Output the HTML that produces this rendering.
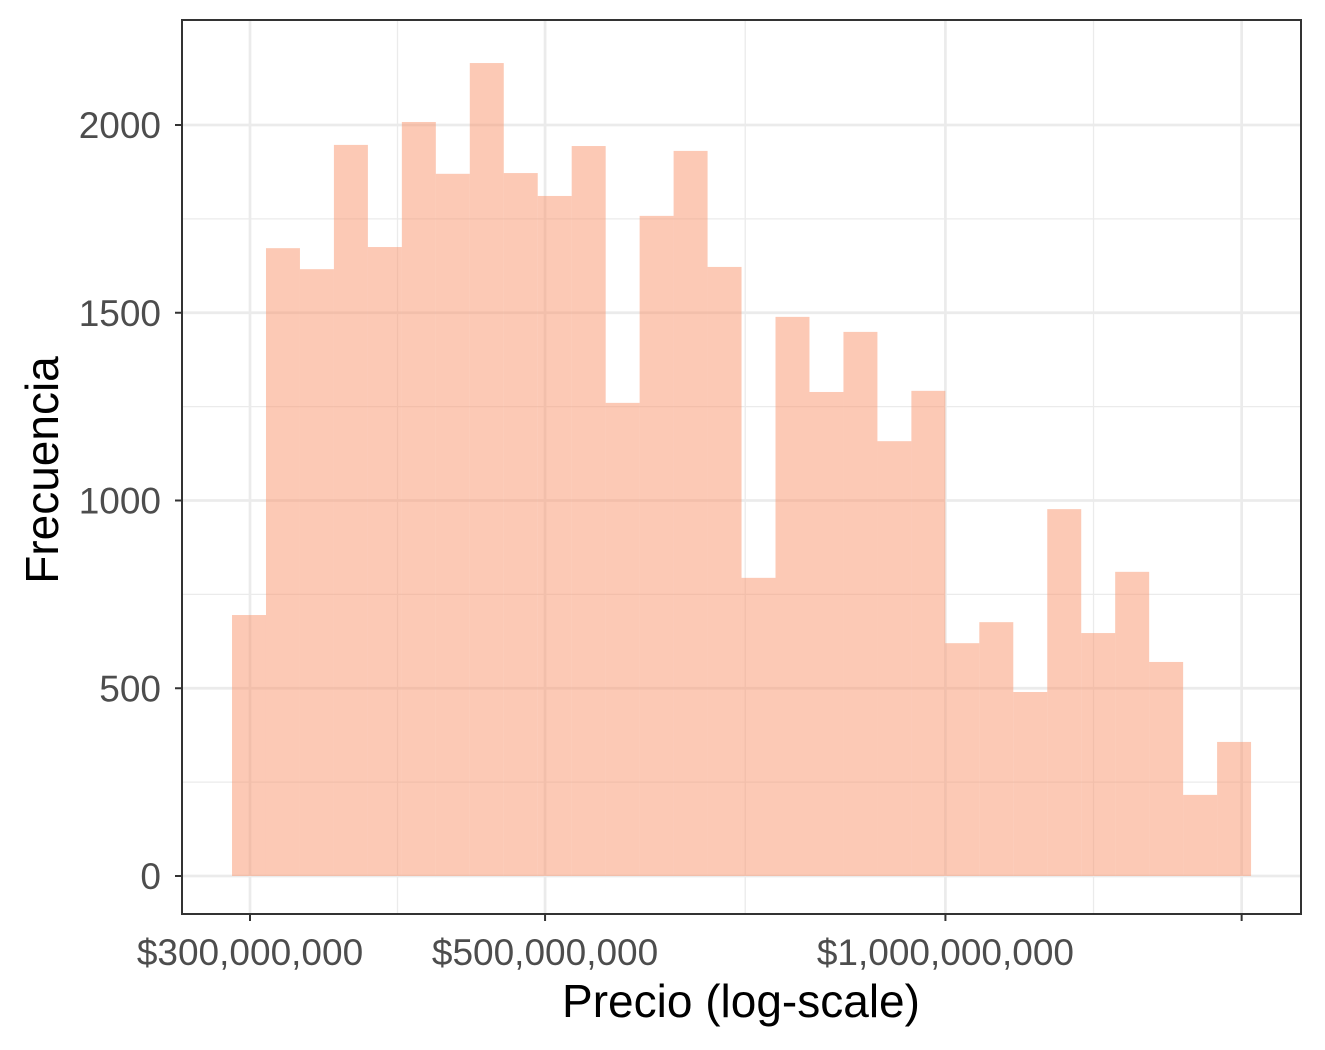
<!DOCTYPE html>
<html><head><meta charset="utf-8"><style>
body{margin:0;background:#fff}
svg{display:block;font-family:"Liberation Sans",Arial,sans-serif}
</style></head><body>
<svg id="chart" width="1325" height="1050">
<rect x="0" y="0" width="1325" height="1050" fill="#fff"/>
<g id="grid"></g><g id="bars"></g><g id="axes"></g>
</svg>
<script>
const counts=[695,1672,1616,1947,1675,2008,1870,2165,1872,1811,1944,1260,1758,1931,1622,794,1489,1289,1449,1158,1292,620,676,490,977,647,810,570,216,357];
const binStartLog=[8.4636];
const binWidthLog=[0.02554];
const xBreaks=[3e8,5e8,1e9,1.67e9];
const xLabels=["$300,000,000","$500,000,000","$1,000,000,000",""];
const yTicks=[0,500,1000,1500,2000];
const yMinor=[250,750,1250,1750];

const P={l:182,r:1301,t:20,b:914};
const xs=v=>250+(Math.log10(v)-Math.log10(3e8))*1330;
const xl=l=>250+(l-Math.log10(3e8))*1330;
const ys=v=>876-v*0.3755;
const NS="http://www.w3.org/2000/svg";
function mk(tag,attrs,parent){const e=document.createElementNS(NS,tag);for(const k in attrs)e.setAttribute(k,attrs[k]);parent.appendChild(e);return e;}
const grid=document.getElementById('grid'),bars=document.getElementById('bars'),axes=document.getElementById('axes');
const xb=xBreaks.map(xs);
for(let i=0;i<xb.length-1;i++){
  const l=mk('line',{x1:(xb[i]+xb[i+1])/2,x2:(xb[i]+xb[i+1])/2,y1:P.t,y2:P.b,stroke:'#ebebeb','stroke-width':1.3},grid);
  
  
}
yMinor.forEach(v=>{
  const l=mk('line',{x1:P.l,x2:P.r,y1:ys(v),y2:ys(v),stroke:'#ebebeb','stroke-width':1.3},grid);
  
  
});
xBreaks.forEach(v=>{
  const l=mk('line',{x1:xs(v),x2:xs(v),y1:P.t,y2:P.b,stroke:'#ebebeb','stroke-width':2.7},grid);
  
  
});
yTicks.forEach(v=>{
  const l=mk('line',{x1:P.l,x2:P.r,y1:ys(v),y2:ys(v),stroke:'#ebebeb','stroke-width':2.7},grid);
  
  
});
counts.forEach((c,i)=>{
  const a=xl(binStartLog[0]+i*binWidthLog[0]),b=xl(binStartLog[0]+(i+1)*binWidthLog[0]);
  const r=mk('rect',{x:a,y:ys(c),width:b-a,height:ys(0)-ys(c),fill:'rgb(250,148,108)','fill-opacity':0.5},bars);
  
  
});
const fr=mk('rect',{x:P.l,y:P.t,width:P.r-P.l,height:P.b-P.t,fill:'none',stroke:'#333','stroke-width':2},axes);


yTicks.forEach(v=>{
  mk('line',{x1:P.l-7,x2:P.l,y1:ys(v),y2:ys(v),stroke:'#333','stroke-width':2},axes);
  const t=mk('text',{x:P.l-21,y:ys(v)+13,'text-anchor':'end','font-size':37,fill:'#4d4d4d'},axes);
  t.textContent=v;
  
  
});
xBreaks.forEach((v,i)=>{
  mk('line',{x1:xs(v),x2:xs(v),y1:P.b,y2:P.b+7,stroke:'#333','stroke-width':2},axes);
  if(!xLabels[i])return;
  const t=mk('text',{x:xs(v),y:965,'text-anchor':'middle','font-size':37,fill:'#4d4d4d'},axes);
  t.textContent=xLabels[i];
  
  
});
const xt=mk('text',{x:741,y:1017,'text-anchor':'middle','font-size':46,fill:'#000'},axes);
xt.textContent='Precio (log-scale)';


const yt=mk('text',{x:58,y:470,'text-anchor':'middle','font-size':46,fill:'#000',transform:'rotate(-90 58 470)'},axes);
yt.textContent='Frecuencia';


</script>
</body></html>
